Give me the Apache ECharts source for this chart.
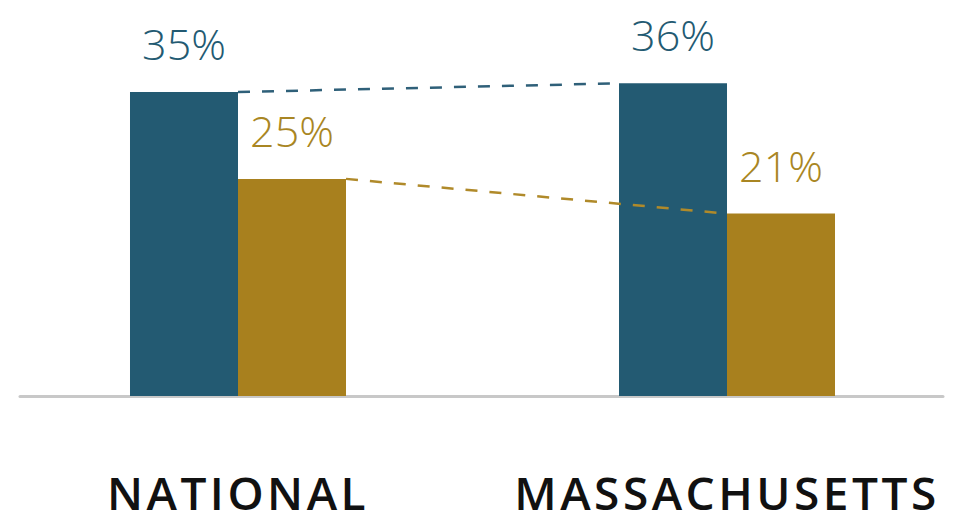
<!DOCTYPE html>
<html>
<head>
<meta charset="utf-8">
<script src="https://cdn.jsdelivr.net/npm/echarts@6/dist/echarts.min.js"></script>
<style>
  html, body { margin: 0; padding: 0; background: #fff; }
  #chart { width: 969px; height: 517px; }
  /* spaced-out capitals for the category names (the only 600-weight text) */
  #chart text[style*="font-weight: 600"] { letter-spacing: 3.5px; }
</style>
</head>
<body>
<div id="chart"></div>
<script>
const categories = ['NATIONAL', 'MASSACHUSETTS'];
const blueValues = [35, 36];
const goldValues = [25, 21];

const BLUE = '#235a72';
const GOLD = '#a8801e';
const BAR_W = 108;

// dashed connector between the same series' bars in the two groups
function connectorSeries(values, color, side) {
  return {
    type: 'custom',
    z: 5,
    silent: true,
    data: [[0, values[0], 1, values[1]]],
    renderItem: (params, api) => {
      const a = api.coord([api.value(0), api.value(1)]);
      const b = api.coord([api.value(2), api.value(3)]);
      // blue bar sits left of the group centre, gold to the right
      const off = side * BAR_W / 2;
      return {
        type: 'line',
        shape: { x1: a[0] + off + BAR_W / 2, y1: a[1], x2: b[0] + off - BAR_W / 2, y2: b[1] },
        style: { stroke: color, lineWidth: 2.5, lineDash: [12, 12] }
      };
    }
  };
}

function labelStyle(color) {
  return {
    show: true, position: 'top', distance: 27,
    formatter: p => p.value[1] + '%',
    color: color, fontFamily: 'Open Sans', fontWeight: 300, fontSize: 43
  };
}

const chart = echarts.init(document.getElementById('chart'), null, { renderer: 'svg' });
chart.setOption({
  animation: false,
  grid: { left: 20, right: 26, top: 48.6, bottom: 121 },
  xAxis: {
    type: 'value', min: -0.4458, max: 1.4417,
    splitLine: { show: false },
    axisTick: { show: false },
    axisLine: { show: true, lineStyle: { color: '#c8c8c8', width: 3 } },
    axisLabel: {
      customValues: [0, 1],
      formatter: v => categories[Math.round(v)] || '',
      color: '#111', fontFamily: 'Open Sans', fontWeight: 600, fontSize: 46,
      lineHeight: 40, margin: 76
    }
  },
  yAxis: { type: 'value', min: 0, max: 40, show: false },
  series: [
    { type: 'bar', barWidth: BAR_W, barGap: '0%', data: blueValues.map((v, i) => [i, v]),
      itemStyle: { color: BLUE }, label: labelStyle(BLUE) },
    { type: 'bar', barWidth: BAR_W, barGap: '0%', data: goldValues.map((v, i) => [i, v]),
      itemStyle: { color: GOLD }, label: labelStyle('#a98623') },
    connectorSeries(blueValues, '#2f6079', -1),
    connectorSeries(goldValues, '#b08a2a', 1)
  ]
});
</script>
</body>
</html>
